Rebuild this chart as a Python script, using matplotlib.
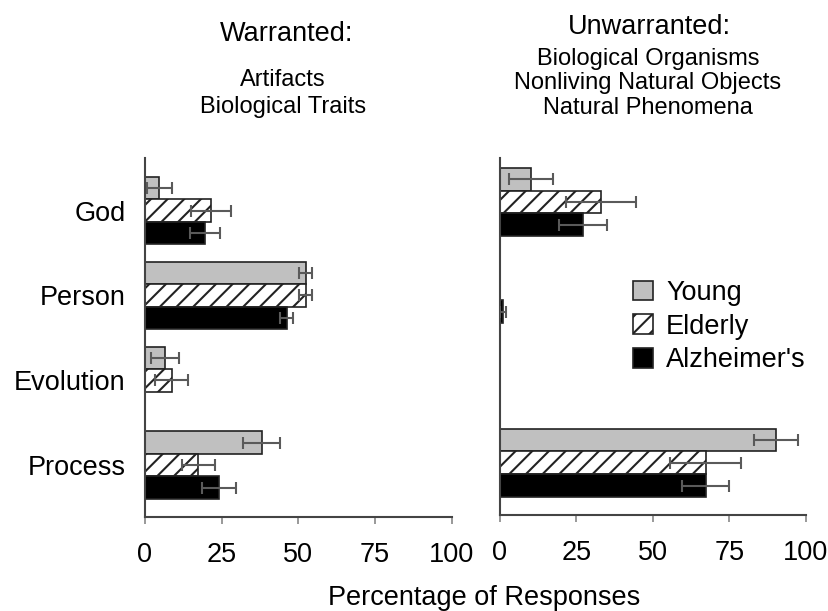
import numpy as np
import matplotlib.pyplot as plt

plt.rcParams['font.family'] = ['Liberation Sans', 'DejaVu Sans']
plt.rcParams['hatch.linewidth'] = 1.5

categories = ['God', 'Person', 'Evolution', 'Process']
groups = ['Young', 'Elderly', "Alzheimer's"]
ticks = [0, 25, 50, 75, 100]

# warranted: artifacts, biological traits
warr_young = [4.6, 52.4, 6.5, 38.0]
warr_young_err = [4.1, 2.2, 4.6, 5.9]
warr_elderly = [21.5, 52.4, 8.7, 17.4]
warr_elderly_err = [6.5, 2.2, 5.4, 5.4]
warr_alz = [19.6, 46.2, 0, 24.1]
warr_alz_err = [5.0, 2.2, 0, 5.5]

# unwarranted: organisms, nonliving objects, phenomena
unw_young = [10.1, 0, 0, 90.2]
unw_young_err = [7.1, 0, 0, 7.2]
unw_elderly = [33.0, 0, 0, 67.2]
unw_elderly_err = [11.4, 0, 0, 11.6]
unw_alz = [27.2, 1.0, 0, 67.2]
unw_alz_err = [7.9, 1.0, 0, 7.6]

warr_title = 'Warranted:'
warr_sub = ['Artifacts', 'Biological Traits']
unw_title = 'Unwarranted:'
unw_sub = ['Biological Organisms', 'Nonliving Natural Objects', 'Natural Phenomena']

colors = ['#c0c0c0', 'white', 'black']
hatches = [None, '//', None]
edge = '#222222'
W, H = 829, 611
FS = 19.5


def fx(px):
    return px / W


def fy(py):
    return 1 - py / H


def draw_panel(ax, series, errs, h, ylim):
    y = np.arange(len(categories))
    handles = []
    for i in range(3):
        pos = y + (i - 1) * h
        b = ax.barh(pos, series[i], height=h, color=colors[i], edgecolor=edge,
                    hatch=hatches[i], linewidth=1.2, label=groups[i])
        handles.append(b)
        v = np.array(series[i])
        e = np.array(errs[i])
        m = e > 0
        ax.errorbar(v[m], pos[m], xerr=e[m], fmt='none', ecolor='#5a5a5a',
                    elinewidth=1.5, capsize=4, capthick=1.5, zorder=3)
    ax.set_xlim(0, 100)
    ax.set_ylim(*ylim)
    ax.set_xticks(ticks)
    ax.set_yticks(y)
    ax.set_yticklabels(categories, fontsize=FS)
    ax.tick_params(axis='x', labelsize=FS, length=5, width=1.2, color='#888888', pad=13)
    ax.tick_params(axis='y', length=0, pad=14)
    for s in ['top', 'right']:
        ax.spines[s].set_visible(False)
    for s in ['left', 'bottom']:
        ax.spines[s].set_color('#444444')
        ax.spines[s].set_linewidth(1.5)
    return handles


fig = plt.figure(figsize=(W / 100, H / 100), dpi=100)

ax1 = fig.add_axes([fx(145), fy(517), fx(451.7) - fx(145), (517 - 158) / H])
ax2 = fig.add_axes([fx(500), fy(515), fx(806) - fx(500), (515 - 158) / H])

handles = draw_panel(ax1, [warr_young, warr_elderly, warr_alz],
                     [warr_young_err, warr_elderly_err, warr_alz_err],
                     0.265, (3.61, -0.62))
draw_panel(ax2, [unw_young, unw_elderly, unw_alz],
           [unw_young_err, unw_elderly_err, unw_alz_err],
           0.261, (3.6, -0.506))
ax2.tick_params(axis='y', left=False, labelleft=False)

# headings
fig.text(fx(286.5), fy(41), warr_title, ha='center', va='baseline', fontsize=FS)
for k, line in enumerate(warr_sub):
    fig.text(fx(283), fy(86 + 27 * k), line, ha='center', va='baseline', fontsize=17)
fig.text(fx(649), fy(34), unw_title, ha='center', va='baseline', fontsize=FS)
for k, line in enumerate(unw_sub):
    fig.text(fx(648), fy(64.5 + 24.5 * k), line, ha='center', va='baseline', fontsize=17)

fig.text(fx(484.5), fy(605), 'Percentage of Responses', ha='center', va='baseline', fontsize=FS)

fig.legend(handles=handles, labels=groups, loc='upper left',
           bbox_to_anchor=(fx(633), fy(280)), frameon=False, fontsize=FS,
           borderpad=0, borderaxespad=0, handlelength=0.74, handleheight=0.74,
           handletextpad=0.48, labelspacing=0.28)

plt.savefig('out.png', dpi=100)
plt.close()
